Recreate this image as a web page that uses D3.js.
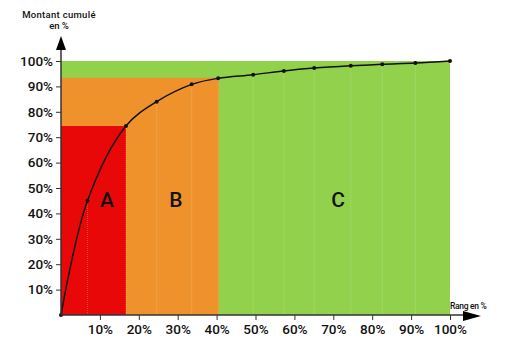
<!DOCTYPE html>
<html><head><meta charset="utf-8">
<script src="https://cdn.jsdelivr.net/npm/d3@7"></script>
<style>body{margin:0;background:#fff}svg{display:block}text{font-family:Roboto, sans-serif;font-weight:500}</style>
</head><body>
<svg id="c" width="507" height="353"></svg>
<script>
const rankPct = [0, 6.8, 16.7, 24.6, 33.6, 40.4, 49.4, 57.3, 65.1, 74.5, 82.6, 91.1, 100];
const cumPct  = [0, 45, 74.4, 84, 90.8, 93.2, 94.6, 96.1, 97.2, 98.1, 98.7, 99.2, 100];
const classes = ["A", "B", "C"];
const classRankEnd = [16.7, 40.6, 100];
const classCumEnd = [74.4, 93.4, 100];
const classColors = ["#e80808", "#ef922b", "#91d14c"];
const tickVals = [10,20,30,40,50,60,70,80,90,100];

const svg = d3.select("#c");
const x = d3.scaleLinear().domain([0,100]).range([61,450]);
const y = d3.scaleLinear().domain([0,100]).range([315,61]);

// bands: draw largest first
for (let i = classes.length-1; i >= 0; i--) {
  svg.append("rect").attr("x", x(0)).attr("y", y(classCumEnd[i]))
    .attr("width", x(classRankEnd[i]) - x(0)).attr("height", y(0) - y(classCumEnd[i]))
    .attr("fill", classColors[i]);
}
// faint vertical guides
svg.selectAll("line.g").data(rankPct.slice(1, -1)).enter().append("line")
  .attr("x1", d => x(d)).attr("x2", d => x(d))
  .attr("y1", y(0)).attr("y2", (d,i) => y(cumPct[i+1]))
  .attr("stroke", "#ffffff").attr("stroke-opacity", 0.25).attr("stroke-dasharray", "1,1");

// letters
svg.selectAll("text.cls").data(classes).enter().append("text")
  .attr("x", (d,i) => [107,176,338][i]).attr("y", 207)
  .attr("text-anchor", "middle")
  .attr("font-size", 21).attr("fill", "#111").text(d => d);

// curve
const line = d3.line().x((d,i) => x(rankPct[i])).y(d => y(d)).curve(d3.curveCatmullRom.alpha(0.5));
svg.append("path").attr("d", line(cumPct)).attr("fill", "none").attr("stroke", "#111").attr("stroke-width", 1.5);
svg.selectAll("circle").data(cumPct).enter().append("circle")
  .attr("cx", (d,i) => x(rankPct[i])).attr("cy", d => y(d)).attr("r", 2).attr("fill", "#111");

// axes
const ax = "#333";
svg.append("line").attr("x1", x(0)).attr("x2", 466).attr("y1", y(0)).attr("y2", y(0)).attr("stroke", ax).attr("stroke-width", 1.5);
svg.append("path").attr("d", `M463,311 L481,316 L463,321 Z`).attr("fill", "#000");
svg.append("line").attr("x1", x(0)).attr("x2", x(0)).attr("y1", y(0)).attr("y2", 48).attr("stroke", ax).attr("stroke-width", 1.5);
svg.append("path").attr("d", `M56,50 L61,36 L66,50 Z`).attr("fill", "#000");

const xa = svg.append("g").attr("transform", `translate(0,${y(0)})`)
  .call(d3.axisBottom(x).tickValues(tickVals).tickSize(5).tickFormat(d => d + "%"));
xa.select(".domain").remove();
xa.selectAll("line").attr("stroke", ax);
xa.selectAll("text").attr("font-family", null).attr("font-size", 13.5).attr("fill", "#111").attr("y", 19).attr("dy", 0);

const ya = svg.append("g").attr("transform", `translate(${x(0)},0)`)
  .call(d3.axisLeft(y).tickValues(tickVals).tickSize(5).tickFormat(d => d + "%"));
ya.select(".domain").remove();
ya.selectAll("line").attr("stroke", ax);
ya.selectAll("text").attr("font-family", null).attr("font-size", 13.5).attr("fill", "#111").attr("x", -8);

svg.append("text").attr("x", 59).attr("y", 18).attr("text-anchor", "middle")
  .attr("font-size", 9.5).attr("fill", "#111").attr("letter-spacing", 0.3).text("Montant  cumulé");
svg.append("text").attr("x", 59).attr("y", 29).attr("text-anchor", "middle")
  .attr("font-size", 9.5).attr("fill", "#111").text("en %");
svg.append("text").attr("x", 450).attr("y", 309)
  .attr("font-size", 8.5).attr("fill", "#111").attr("letter-spacing", -0.3).text("Rang en %");
</script>
</body></html>
